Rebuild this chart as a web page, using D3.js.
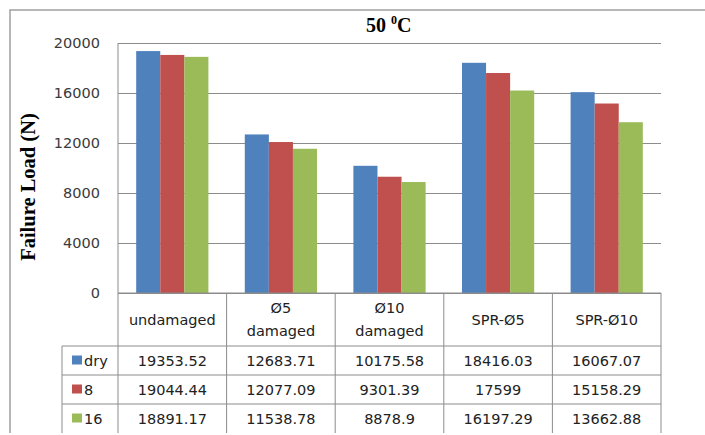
<!DOCTYPE html>
<html><head><meta charset="utf-8">
<script src="https://cdn.jsdelivr.net/npm/d3@7"></script>
<style>body{margin:0;background:#fff}svg{display:block}</style>
</head><body>
<svg id="c" width="705" height="435"></svg>
<script>
const categories = [["undamaged"], ["Ø5", "damaged"], ["Ø10", "damaged"], ["SPR-Ø5"], ["SPR-Ø10"]];
const seriesNames = ["dry", "8", "16"];
const dryValues = [19353.52, 12683.71, 10175.58, 18416.03, 16067.07];
const v8Values = [19044.44, 12077.09, 9301.39, 17599, 15158.29];
const v16Values = [18891.17, 11538.78, 8878.9, 16197.29, 13662.88];
const tableLabels = [
  ["19353.52", "12683.71", "10175.58", "18416.03", "16067.07"],
  ["19044.44", "12077.09", "9301.39", "17599", "15158.29"],
  ["18891.17", "11538.78", "8878.9", "16197.29", "13662.88"]
];
const yTicks = [0, 4000, 8000, 12000, 16000, 20000];
const colors = ["#4F81BD", "#C0504D", "#9BBB59"];
const series = [dryValues, v8Values, v16Values];

const svg = d3.select("#c");
const L = 118, R = 661, T = 43, B = 293;
const rowTop = 346, rowH = 29, tableBottom = 433, legendLeft = 62;
const font = "'DejaVu Sans', sans-serif";
const grid = "#8c8c8c";

// outer border
svg.append("path").attr("d", "M10,433 V10 H705").attr("fill", "none").attr("stroke", "#a0a0a0").attr("stroke-width", 1.5);

const x = d3.scaleBand().domain(d3.range(categories.length)).range([L, R]).paddingInner(0).paddingOuter(0);
const xs = d3.scaleBand().domain(d3.range(series.length)).range([0, x.bandwidth() * 0.665]);
const y = d3.scaleLinear().domain([0, 20000]).range([B, T]);

// gridlines
const yAxis = d3.axisLeft(y).tickValues(yTicks).tickSize(-(R - L)).tickPadding(18).tickFormat(d3.format("d"));
const g = svg.append("g").attr("transform", `translate(${L},0)`).call(yAxis);
g.select(".domain").remove();
g.selectAll(".tick line").attr("stroke", grid).attr("stroke-width", 1);
g.selectAll(".tick text").attr("font-family", font).attr("font-size", 14.5).attr("fill", "#3a3a3a");

// bars
const off = (x.bandwidth() - xs.range()[1]) / 2;
series.forEach((vals, si) => {
  svg.append("g").selectAll("rect").data(vals).join("rect")
    .attr("x", (d, i) => x(i) + off + xs(si))
    .attr("width", xs.bandwidth())
    .attr("y", d => y(d))
    .attr("height", d => y(0) - y(d))
    .attr("fill", colors[si]);
});

// plot left axis line
svg.append("line").attr("x1", L).attr("x2", L).attr("y1", T).attr("y2", tableBottom).attr("stroke", grid);

// table lines
const tl = svg.append("g").attr("stroke", grid).attr("stroke-width", 1);
tl.append("line").attr("x1", L).attr("x2", R).attr("y1", B).attr("y2", B);
for (let r = 0; r < 3; r++) {
  tl.append("line").attr("x1", legendLeft).attr("x2", R).attr("y1", rowTop + r * rowH).attr("y2", rowTop + r * rowH);
}
tl.append("line").attr("x1", legendLeft).attr("x2", legendLeft).attr("y1", rowTop).attr("y2", tableBottom);
categories.forEach((c, i) => {
  tl.append("line").attr("x1", x(i) + x.bandwidth()).attr("x2", x(i) + x.bandwidth()).attr("y1", B).attr("y2", tableBottom);
});

// category labels
categories.forEach((lines, i) => {
  const cx = x(i) + x.bandwidth() / 2;
  const cy = (B + rowTop) / 2;
  const n = lines.length;
  lines.forEach((t, k) => {
    svg.append("text").attr("x", cx).attr("y", cy + (k - (n - 1) / 2) * 23 + 5)
      .attr("text-anchor", "middle").attr("font-family", font).attr("font-size", 14.5).attr("fill", "#222").text(t);
  });
});

// rows
seriesNames.forEach((nm, r) => {
  const cy = rowTop + r * rowH + rowH / 2 + 5;
  svg.append("rect").attr("x", 72).attr("y", cy - 10).attr("width", 10).attr("height", 9).attr("fill", colors[r]);
  svg.append("text").attr("x", 84).attr("y", cy).attr("font-family", font).attr("font-size", 14.5).attr("fill", "#222").text(nm);
  tableLabels[r].forEach((t, i) => {
    svg.append("text").attr("x", x(i) + x.bandwidth() / 2).attr("y", cy)
      .attr("text-anchor", "middle").attr("font-family", font).attr("font-size", 14.5).attr("fill", "#222").text(t);
  });
});

// title
const title = svg.append("text").attr("x", 366).attr("y", 32).attr("font-family", "'Liberation Serif', serif").attr("font-weight", "bold").attr("font-size", 20).attr("fill", "#000");
title.append("tspan").text("50 ");
title.append("tspan").attr("font-size", 12).attr("dy", -8).text("0");
title.append("tspan").attr("dy", 8).text("C");

// y label
svg.append("text").attr("transform", "translate(35,187) rotate(-90)").attr("text-anchor", "middle")
  .attr("font-family", "'Liberation Serif', serif").attr("font-weight", "bold").attr("font-size", 20.5).attr("fill", "#000")
  .text("Failure Load (N)");
</script>
</body></html>
